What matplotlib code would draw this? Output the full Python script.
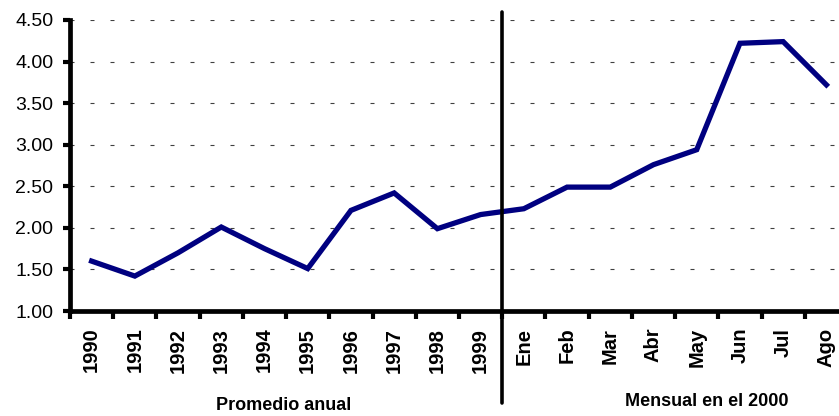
import matplotlib
matplotlib.use("Agg")
import matplotlib.pyplot as plt
from matplotlib.ticker import FixedLocator

plt.rcParams["font.family"] = ["Liberation Sans", "DejaVu Sans"]

# data
categories = ["1990", "1991", "1992", "1993", "1994", "1995", "1996", "1997", "1998", "1999",
              "Ene", "Feb", "Mar", "Abr", "May", "Jun", "Jul", "Ago"]
values = [1.60, 1.42, 1.70, 2.01, 1.75, 1.51, 2.21, 2.42, 1.99, 2.16,
          2.23, 2.49, 2.49, 2.76, 2.94, 4.22, 4.24, 3.72]
y_ticks = [1.00, 1.50, 2.00, 2.50, 3.00, 3.50, 4.00, 4.50]
section_labels = ["Promedio anual", "Mensual en el 2000"]

fig = plt.figure(figsize=(8.39, 4.16), dpi=100)
ax = fig.add_axes([70 / 839, 1 - 311 / 416, 778 / 839, 291 / 416])

xs = list(range(len(categories)))
ax.plot(xs, values, color="#000080", lw=3.8, solid_joinstyle="miter", zorder=3)

ax.set_xlim(-0.5, len(categories) - 0.5)
ax.set_ylim(1.0, 4.5)

# dashed horizontal grid
for v in y_ticks[1:]:
    ax.axhline(v, color="#404040", lw=0.8, dashes=(3.6, 14.4), zorder=1)

ax.set_yticks(y_ticks)
ax.set_yticklabels([f"{v:.2f}" for v in y_ticks], fontsize=14)
ax.tick_params(axis="y", length=5, width=3, pad=7, direction="out")

ax.set_xticks(xs)
ax.set_xticklabels(categories, rotation=90, fontsize=14.5, fontweight="bold")
ax.xaxis.set_minor_locator(FixedLocator([i - 0.5 for i in range(len(categories) + 1)]))
ax.tick_params(axis="x", which="major", length=0, pad=12)
ax.tick_params(axis="x", which="minor", length=6, width=3, direction="out")

for s in ["top", "right"]:
    ax.spines[s].set_visible(False)
for s in ["left", "bottom"]:
    ax.spines[s].set_linewidth(3.4)

# separator between yearly and monthly data
ax.axvline(9.5, ymin=-0.316, ymax=1.027, color="black", lw=2.6, clip_on=False,
           solid_capstyle="round", zorder=4)

fig.text(284 / 839, 1 - 406 / 416, section_labels[0], ha="center", va="center",
         fontsize=13, fontweight="bold")
fig.text(707 / 839, 1 - 402 / 416, section_labels[1], ha="center", va="center",
         fontsize=13, fontweight="bold")

fig.savefig("out.png", dpi=100)
